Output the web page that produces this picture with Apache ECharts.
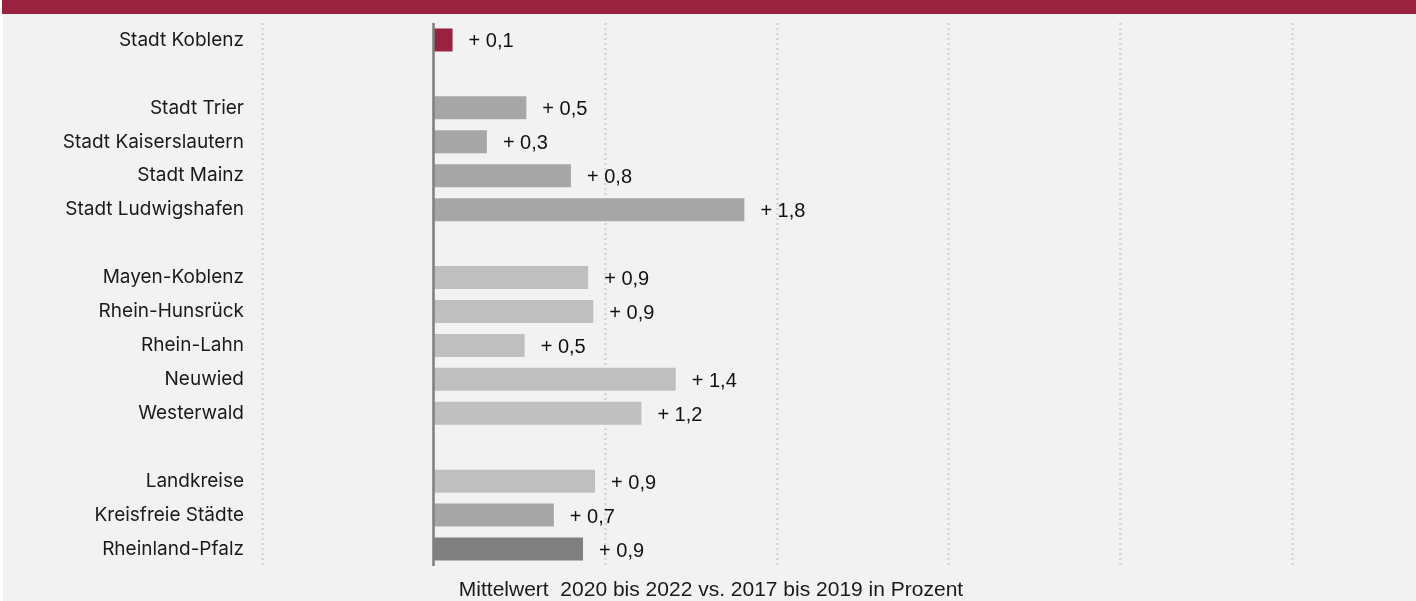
<!DOCTYPE html>
<html>
<head>
<meta charset="utf-8">
<script src="https://cdn.jsdelivr.net/npm/echarts@6/dist/echarts.min.js"></script>
<style>
  html, body { margin: 0; padding: 0; background: #ffffff; }
  #chart { width: 1416px; height: 601px; }
</style>
</head>
<body>
<div id="chart"></div>
<script>
// Kategorien (leere Einträge = Abstand zwischen den Gruppen)
const categories = [
  "Stadt Koblenz", "",
  "Stadt Trier", "Stadt Kaiserslautern", "Stadt Mainz", "Stadt Ludwigshafen", "",
  "Mayen-Koblenz", "Rhein-Hunsrück", "Rhein-Lahn", "Neuwied", "Westerwald", "",
  "Landkreise", "Kreisfreie Städte", "Rheinland-Pfalz"
];
// Veränderung in Prozent
const values = [
  0.11, null,
  0.54, 0.31, 0.80, 1.81, null,
  0.90, 0.93, 0.53, 1.41, 1.21, null,
  0.94, 0.70, 0.87
];
// Gruppe je Balken: k = Koblenz, s = Städte, l = Landkreise, r = Land
const groups = [
  "k", "",
  "s", "s", "s", "s", "",
  "l", "l", "l", "l", "l", "",
  "l", "s", "r"
];
const xTicks = [-1, 0, 1, 2, 3, 4, 5];
const axisTitle = "Mittelwert  2020 bis 2022 vs. 2017 bis 2019 in Prozent";

const groupColor = { k: "#98223f", s: "#a6a6a6", l: "#bfbfbf", r: "#808080" };

const chart = echarts.init(document.getElementById("chart"));

const option = {
  backgroundColor: "#f2f2f2",
  animation: false,
  grid: { left: 262, right: 124, top: 23, bottom: 35, containLabel: false },
  xAxis: {
    type: "value",
    min: xTicks[0],
    max: xTicks[xTicks.length - 1],
    interval: 1,
    axisLabel: { show: false },
    axisLine: { show: false },
    axisTick: { show: false },
    splitLine: {
      show: true,
      lineStyle: { color: "#d9d9d9", width: 3, type: [2, 3] }
    }
  },
  yAxis: {
    type: "category",
    data: categories,
    inverse: true,
    axisLine: { show: false },
    axisTick: { show: false },
    axisLabel: {
      margin: 18,
      color: "#1a1a1a",
      fontSize: 19,
      fontFamily: "Inter",
      padding: [3, 0, 0, 0]
    }
  },
  series: [
    {
      type: "bar",
      barWidth: 23,
      data: values.map((v, i) =>
        v === null ? "-" : { value: v, itemStyle: { color: groupColor[groups[i]] } }
      ),
      label: {
        show: true,
        position: "right",
        distance: 16,
        offset: [0, 2],
        color: "#111111",
        fontSize: 20,
        fontFamily: "Liberation Sans",
        formatter: p => "+ " + p.value.toFixed(1).replace(".", ",")
      },
      markLine: {
        silent: true,
        symbol: "none",
        label: { show: false },
        lineStyle: { color: "#7f7f7f", width: 2.5, type: "solid" },
        data: [{ xAxis: 0 }]
      }
    }
  ],
  graphic: [
    { type: "rect", left: 0, top: 0, shape: { width: 3, height: 601 }, style: { fill: "#ffffff" } },
    { type: "rect", left: 2, top: 0, shape: { width: 1414, height: 14 }, style: { fill: "#98223f" } },
    {
      type: "text",
      x: 711, y: 590,
      style: {
        text: axisTitle,
        textAlign: "center",
        textVerticalAlign: "middle",
        fill: "#1a1a1a",
        fontSize: 21,
        fontFamily: "Liberation Sans"
      }
    }
  ]
};

chart.setOption(option);
</script>
</body>
</html>
